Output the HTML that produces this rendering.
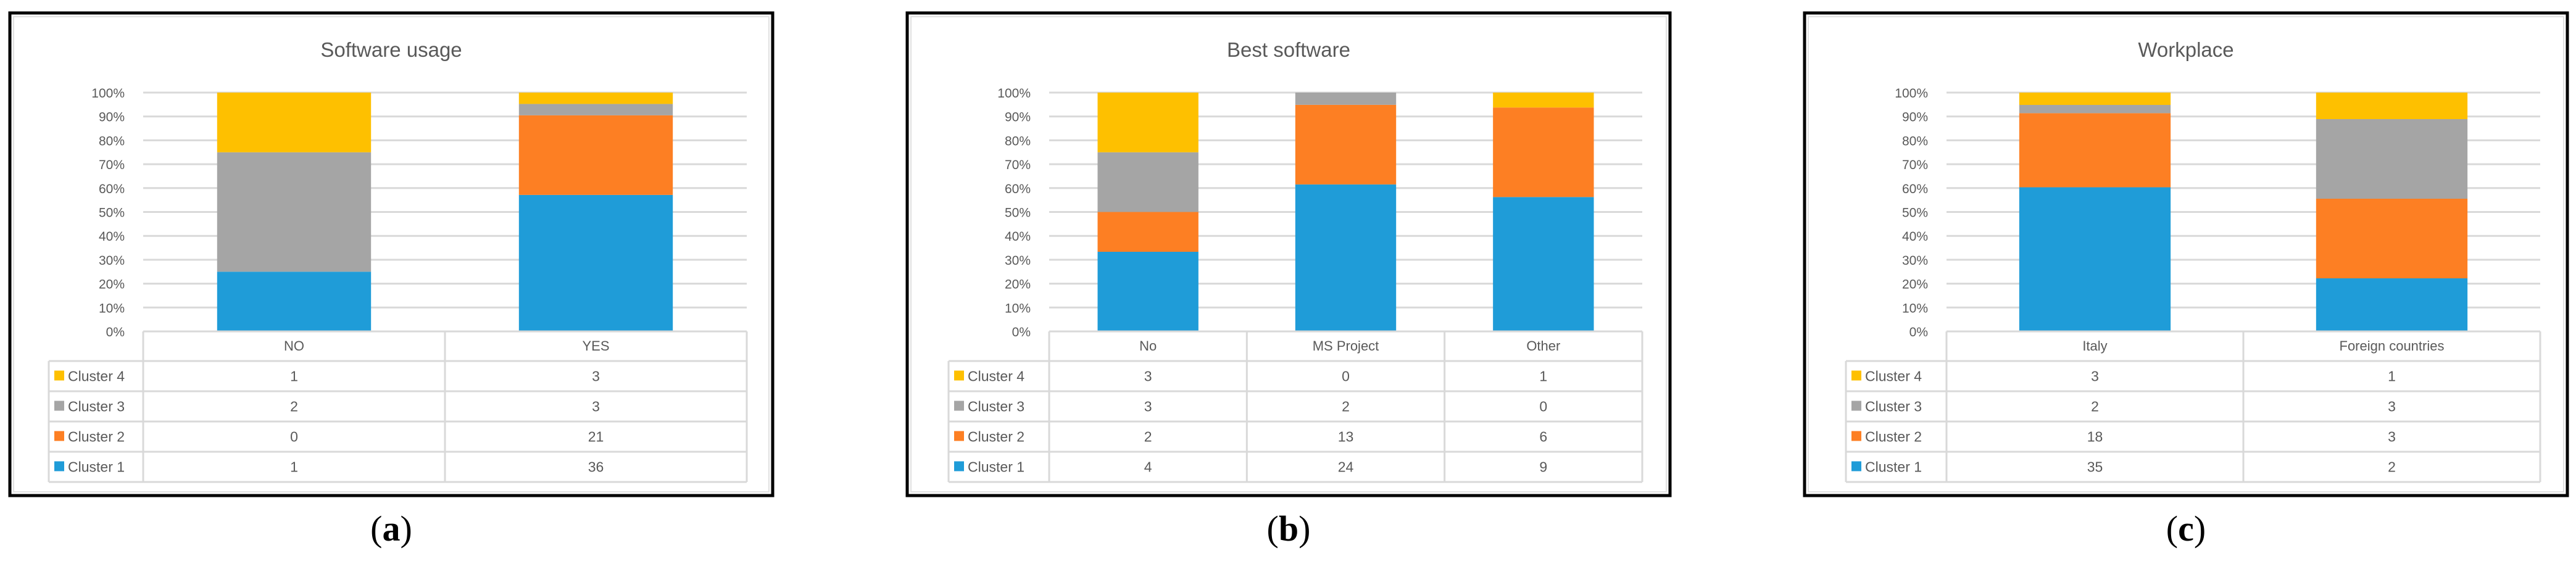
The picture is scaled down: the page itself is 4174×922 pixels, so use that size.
<!DOCTYPE html>
<html><head><meta charset="utf-8"><style>
html,body{margin:0;padding:0;background:#fff;}
svg{display:block;}
text{font-family:"Liberation Sans",sans-serif;}
text.serif{font-family:"Liberation Serif",serif;}
</style></head><body>
<svg id="fig" width="4174" height="922" viewBox="0 0 4174 922" xmlns="http://www.w3.org/2000/svg"></svg>
<script>
const NS="http://www.w3.org/2000/svg";
const seriesNames=["Cluster 1","Cluster 2","Cluster 3","Cluster 4"];
const seriesColors=["#1f9cd8","#fd7f23","#a5a5a5","#fec000"];
const yTicks=["0%","10%","20%","30%","40%","50%","60%","70%","80%","90%","100%"];
const titleA="Software usage", catsA=["NO","YES"];
const c1A=[1,36], c2A=[0,21], c3A=[2,3], c4A=[1,3];
const titleB="Best software", catsB=["No","MS Project","Other"];
const c1B=[4,24,9], c2B=[2,13,6], c3B=[3,2,0], c4B=[3,0,1];
const titleC="Workplace", catsC=["Italy","Foreign countries"];
const c1C=[35,2], c2C=[18,3], c3C=[2,3], c4C=[3,1];
const panels=[
 {id:"a",title:titleA,cats:catsA,vals:[c1A,c2A,c3A,c4A],fx:16,pl:232,pr:1210,lg:79,bw:0.51},
 {id:"b",title:titleB,cats:catsB,vals:[c1B,c2B,c3B,c4B],fx:1470,pl:1700,pr:2661,lg:1537,bw:0.51},
 {id:"c",title:titleC,cats:catsC,vals:[c1C,c2C,c3C,c4C],fx:2924,pl:3154,pr:4116,lg:2991,bw:0.51}
];
const svg=document.getElementById('fig');
function mk(tag,attrs,parent,txt){const e=document.createElementNS(NS,tag);for(const k in attrs)e.setAttribute(k,attrs[k]);if(txt!==undefined)e.textContent=txt;(parent||svg).appendChild(e);return e;}
const yTop=150,yBot=537;
const rowsY=[537,585,634,683,732,781];
panels.forEach(p=>{
 const g=mk('g',{});
 
 
 const fr=mk('rect',{x:p.fx,y:21,width:1236,height:782,fill:'#fff',stroke:'#000','stroke-width':5},g);
 
 
 mk('rect',{x:p.fx+6,y:27,width:1224,height:770,fill:'none',stroke:'#e0e0e0','stroke-width':2},g);
 const t=mk('text',{x:(p.fx+618),y:92,'text-anchor':'middle','font-size':33,fill:'#595959'},g,p.title);
 
 
 const ys=v=>yBot-(yBot-yTop)*v;
 yTicks.forEach((lab,i)=>{
  const y=ys(i/10);
  if(i>0){const l=mk('line',{x1:p.pl,x2:p.pr,y1:y,y2:y,stroke:'#d9d9d9','stroke-width':3},g);
   
   }
  const tx=mk('text',{x:p.pl-30,y:y+8,'text-anchor':'end','font-size':21,fill:'#595959'},g,lab);
  
  
 });
 const n=p.cats.length, cw=(p.pr-p.pl)/n;
 p.cats.forEach((c,i)=>{
  let tot=0;p.vals.forEach(s=>tot+=s[i]);
  let acc=0;const bx=p.pl+cw*i+cw*(1-p.bw)/2,bwid=cw*p.bw;
  p.vals.forEach((s,k)=>{
   const v=s[i]/tot; if(v<=0){return;}
   const y1=ys(acc+v),y0=ys(acc);
   const r=mk('rect',{x:bx,y:y1,width:bwid,height:y0-y1,fill:seriesColors[k]},g);
   
   
   acc+=v;
  });
 });
 const tc='#d9d9d9';
 mk('line',{x1:p.pl,x2:p.pr,y1:rowsY[0],y2:rowsY[0],stroke:tc,'stroke-width':3},g);
 for(let r=1;r<rowsY.length;r++) mk('line',{x1:p.lg,x2:p.pr,y1:rowsY[r],y2:rowsY[r],stroke:tc,'stroke-width':3},g);
 mk('line',{x1:p.lg,x2:p.lg,y1:rowsY[1],y2:rowsY[5],stroke:tc,'stroke-width':3},g);
 for(let i=0;i<=n;i++){const x=p.pl+cw*i;mk('line',{x1:x,x2:x,y1:rowsY[0],y2:rowsY[5],stroke:tc,'stroke-width':3},g);}
 p.cats.forEach((c,i)=>{
  const ct=mk('text',{x:p.pl+cw*(i+0.5),y:rowsY[0]+31,'text-anchor':'middle','font-size':22,fill:'#595959'},g,c);
  
  
 });
 for(let r=0;r<4;r++){
  const k=3-r, yc=(rowsY[r+1]+rowsY[r+2])/2;
  const sw=mk('rect',{x:p.lg+9,y:yc-9,width:16,height:16,fill:seriesColors[k]},g);
  
  
  const lt=mk('text',{x:p.lg+31,y:yc+8,'font-size':23,fill:'#595959'},g,seriesNames[k]);
  
  
  p.cats.forEach((c,i)=>{
   const vt=mk('text',{x:p.pl+cw*(i+0.5),y:yc+8,'text-anchor':'middle','font-size':23,fill:'#595959'},g,String(p.vals[k][i]));
   
   
  });
 }
 const lab=mk('text',{x:p.fx+618,y:876,'text-anchor':'middle','font-size':58,fill:'#000','class':'serif'},g);
 
 
 mk('tspan',{},lab,'(');
 mk('tspan',{'font-weight':'bold'},lab,p.id);
 mk('tspan',{},lab,')');
});
</script>
</body></html>
